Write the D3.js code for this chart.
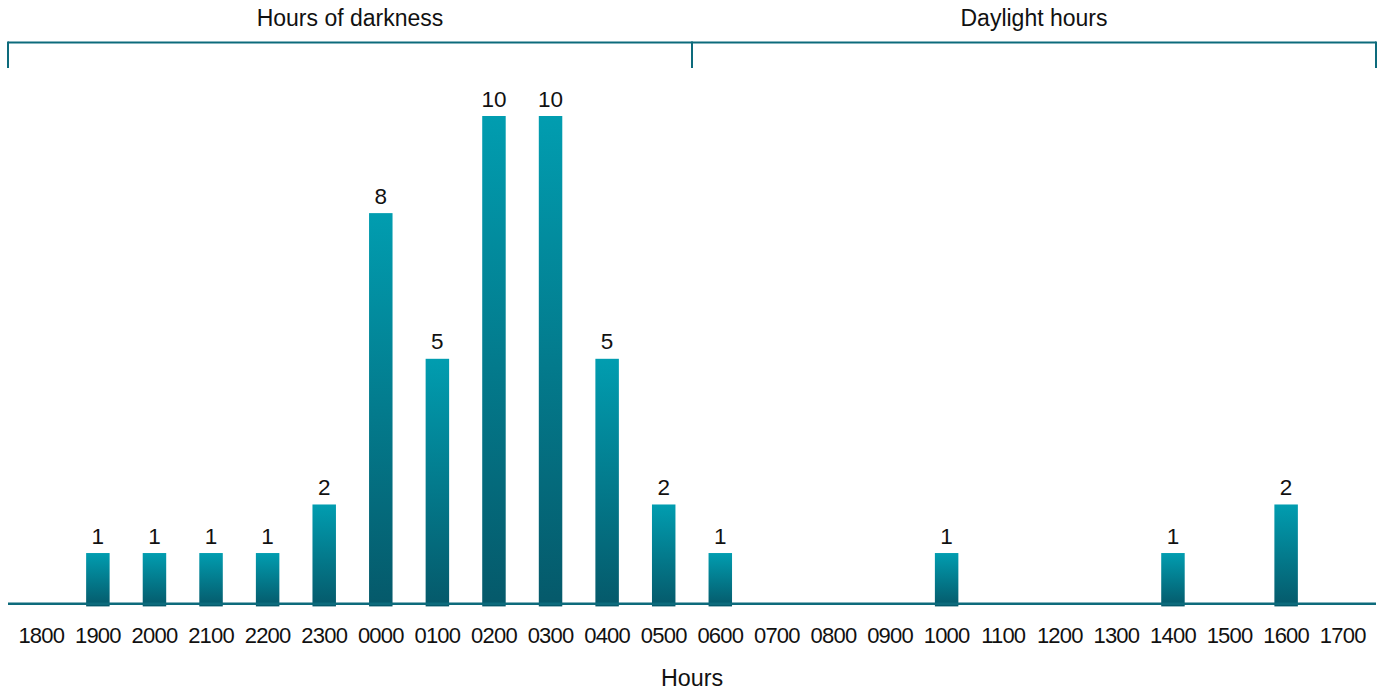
<!DOCTYPE html>
<html>
<head>
<meta charset="utf-8">
<script src="https://cdn.jsdelivr.net/npm/d3@7"></script>
<style>
  html, body { margin: 0; padding: 0; background: #fff; }
  svg { display: block; font-family: "Liberation Sans", Arial, Helvetica, sans-serif; }
</style>
</head>
<body>
<svg id="chart" width="1386" height="690"></svg>
<script>
const hours = ["1800","1900","2000","2100","2200","2300","0000","0100","0200","0300","0400","0500",
               "0600","0700","0800","0900","1000","1100","1200","1300","1400","1500","1600","1700"];
const counts = [0,1,1,1,1,2,8,5,10,10,5,2,1,0,0,0,1,0,0,0,1,0,2,0];
const groupLabels = ["Hours of darkness", "Daylight hours"];
const axisTitle = "Hours";

const svg = d3.select("#chart");

const x = d3.scaleBand().domain(hours).range([13, 1371]).paddingInner(0.585).paddingOuter(0.2925);
const y = d3.scaleLinear().domain([0, 10]).range([601.6, 116]);
const data = hours.map((h, i) => ({ h, v: counts[i] }));

const defs = svg.append("defs");
const grad = defs.append("linearGradient").attr("id", "barGrad")
  .attr("x1", 0).attr("y1", 0).attr("x2", 0).attr("y2", 1);
grad.append("stop").attr("offset", "0%").attr("stop-color", "#019DB0");
grad.append("stop").attr("offset", "100%").attr("stop-color", "#05596A");

const teal = "#0D6B7C";
const left = 8, right = 1376;
const divider = x("0600") - x.step() * x.paddingInner() / 2;

// bracket
const bracketY = 42.5, tickEnd = 68;
const br = svg.append("g").attr("stroke", teal).attr("stroke-width", 2).attr("fill", "none");
br.append("line").attr("x1", left).attr("x2", right).attr("y1", bracketY).attr("y2", bracketY);
[left, divider, right].forEach(px => {
  br.append("line").attr("x1", px).attr("x2", px).attr("y1", bracketY - 1).attr("y2", tickEnd);
});
const groupBounds = [[left, divider], [divider, right]];
svg.append("g").selectAll("text").data(groupLabels).join("text")
  .attr("x", (d, i) => (groupBounds[i][0] + groupBounds[i][1]) / 2)
  .attr("y", 26)
  .attr("text-anchor", "middle")
  .attr("font-size", 23)
  .attr("fill", "#111")
  .text(d => d);

// bars
const bars = data.filter(d => d.v > 0);
svg.append("g").selectAll("rect").data(bars).join("rect")
  .attr("x", d => x(d.h))
  .attr("width", x.bandwidth())
  .attr("y", d => y(d.v))
  .attr("height", d => y(0) - y(d.v) + 4.8)
  .attr("fill", "url(#barGrad)");

// baseline
svg.append("line").attr("x1", left).attr("x2", right)
  .attr("y1", 603.8).attr("y2", 603.8)
  .attr("stroke", teal).attr("stroke-width", 2.6);

// value labels
svg.append("g").selectAll("text").data(bars).join("text")
  .attr("x", d => x(d.h) + x.bandwidth() / 2)
  .attr("y", d => y(d.v) - 9.5)
  .attr("text-anchor", "middle")
  .attr("font-size", 22.5)
  .attr("fill", "#111")
  .text(d => d.v);

// x axis
const xAxis = d3.axisBottom(x).tickSize(0).tickPadding(0);
const ax = svg.append("g").attr("transform", "translate(0,643)").call(xAxis);
ax.select(".domain").remove();
ax.selectAll("text")
  .attr("dy", 0)
  .attr("y", 0)
  .attr("font-size", 22)
  .attr("letter-spacing", -0.8)
  .attr("font-family", "'Liberation Sans', Arial, sans-serif")
  .attr("fill", "#111");

svg.append("text")
  .attr("x", divider)
  .attr("y", 686)
  .attr("text-anchor", "middle")
  .attr("font-size", 23.3)
  .attr("fill", "#111")
  .text(axisTitle);
</script>
</body>
</html>
